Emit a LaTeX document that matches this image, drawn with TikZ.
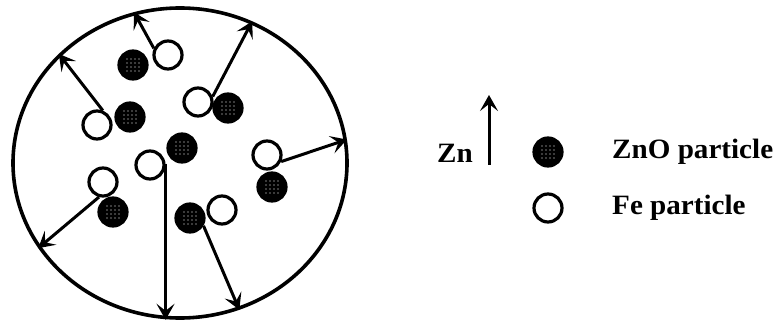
\documentclass[tikz,border=0pt]{standalone}
\usepackage{fontspec}
\setmainfont{Liberation Serif}
\usepackage{tikz}
\usetikzlibrary{
  arrows.meta,
  calc,
  shapes.geometric
}
\colorlet{ink}{black}
\tikzset{
  arrow/.style={-{Stealth[length=16pt,width=18pt,inset=7pt]}, draw=ink, line width=3pt},
  grain/.style={ellipse, draw=ink, line width=3.6pt, minimum width=334pt, minimum height=310pt, inner sep=0pt},
  fepart/.style={circle, draw=ink, fill=white, line width=3.2pt, minimum size=28pt, inner sep=0pt},
  znopart/.style={
    circle, draw=ink, fill=ink, line width=3.2pt, minimum size=28pt, inner sep=0pt,
    path picture={
      \foreach \i in {-1.5,-0.5,0.5,1.5}
        \foreach \j in {-1.5,-0.5,0.5,1.5}
          \fill[white] ($(path picture bounding box.center)+(\i*4pt,\j*4pt)$) circle (0.7pt);
    }
  },
  legendtext/.style={font=\fontsize{28}{32}\selectfont\bfseries, text=ink, inner sep=0pt, xscale=1.04}
}

\begin{document}
\begin{tikzpicture}[x=1pt,y=-1pt]
  \useasboundingbox (0,0) rectangle (784,320);

  % the grain with its particle pairs
  \node[grain] (grain) at (180,163) {};

  \node[fepart] (fe1) at (168,55) {};
  \node[fepart] (fe2) at (97,125) {};
  \node[fepart] (fe3) at (198,102) {};
  \node[fepart] (fe4) at (150,165) {};
  \node[fepart] (fe5) at (267,155) {};
  \node[fepart] (fe6) at (103,182) {};
  \node[fepart] (fe7) at (222,210) {};

  \node[znopart] (zno1) at (133,65) {};
  \node[znopart] (zno2) at (130,117) {};
  \node[znopart] (zno3) at (228,108) {};
  \node[znopart] (zno4) at (182,148) {};
  \node[znopart] (zno5) at (272,187) {};
  \node[znopart] (zno6) at (113,212) {};
  \node[znopart] (zno7) at (190,218) {};

  \draw[arrow] (fe1.155) -- (grain.107);
  \draw[arrow] (fe2.68) -- (grain.138);
  \draw[arrow] (fe3.20) -- (grain.63);
  \draw[arrow] (fe4.5) -- (fe4.5 |- grain.south);
  \draw[arrow] (fe5.-25) -- (grain.8);
  \draw[arrow] (fe6.255) -- (grain.211);
  \draw[arrow] (zno7.-30) -- (grain.292);

  % legend
  \node[legendtext] (zn) at (455,153) {Zn};
  \coordinate (zn base) at (489,165);
  \coordinate (zn tip) at (489,95);
  \draw[arrow] (zn base) -- (zn tip);

  \node[znopart] (znokey) at (548,152) {};
  \node[fepart] (fekey) at (548,208) {};
  \node[legendtext, anchor=west] (znolabel) at (612,152) {ZnO particle};
  \node[legendtext, anchor=west] (felabel) at (612,208) {Fe particle};
\end{tikzpicture}
\end{document}
